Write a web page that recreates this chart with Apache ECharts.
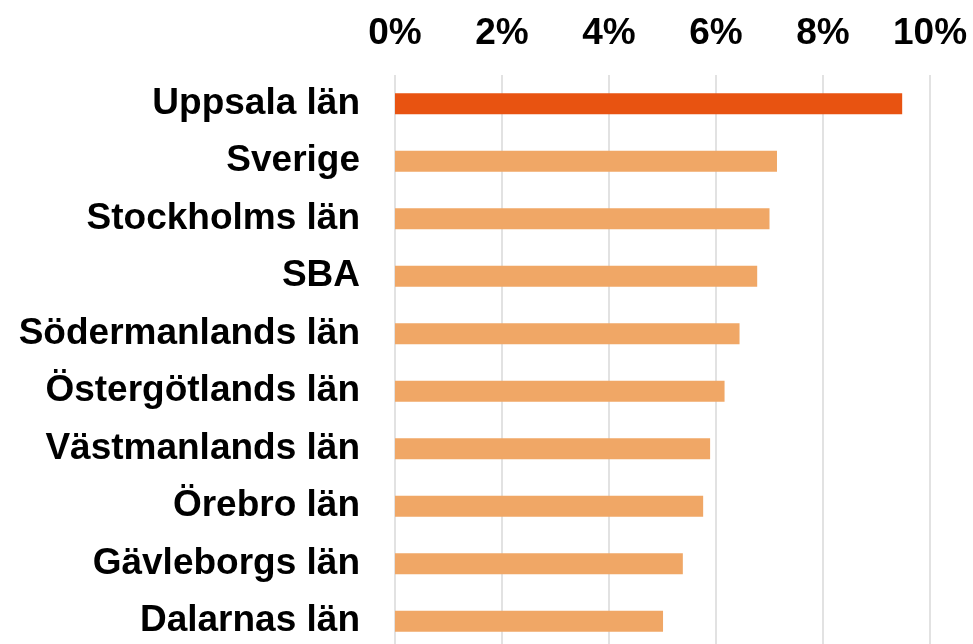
<!DOCTYPE html>
<html>
<head>
    <meta charset="utf-8">
    <title>Län</title>
    <script src="https://cdn.jsdelivr.net/npm/echarts@6/dist/echarts.min.js"></script>
    <style>
        html, body { margin: 0; padding: 0; background: #fff; }
    </style>
</head>
<body>
<div id="chart" style="width: 973px; height: 644px;"></div>
<script type="text/javascript">
    var categories = ['Uppsala län', 'Sverige', 'Stockholms län', 'SBA', 'Södermanlands län',
        'Östergötlands län', 'Västmanlands län', 'Örebro län', 'Gävleborgs län', 'Dalarnas län'];
    var values = [9.48, 7.14, 7.00, 6.77, 6.44, 6.16, 5.89, 5.76, 5.38, 5.01];
    var highlight = 'Uppsala län';

    var chart = echarts.init(document.getElementById('chart'));
    var font = "'Liberation Sans', Arial, sans-serif";

    var option = {
        animation: false,
        grid: {
            left: 395,
            right: 43,
            top: 75,
            height: 575,
            containLabel: false,
            outerBoundsMode: 'none'
        },
        xAxis: {
            type: 'value',
            position: 'top',
            min: 0,
            max: 10,
            interval: 2,
            axisLine: { show: false },
            axisTick: { show: false },
            axisLabel: {
                formatter: '{value}%',
                color: '#000',
                fontWeight: 'bold',
                fontSize: 37,
                fontFamily: font,
                margin: 23
            },
            splitLine: {
                show: true,
                lineStyle: { color: '#d9d9d9', width: 1.5 }
            }
        },
        yAxis: {
            type: 'category',
            inverse: true,
            data: categories,
            axisLine: { show: false },
            axisTick: { show: false },
            axisLabel: {
                color: '#000',
                fontWeight: 'bold',
                fontSize: 37,
                fontFamily: font,
                margin: 35,
                lineHeight: 41
            }
        },
        series: [{
            type: 'bar',
            barWidth: 21,
            data: values.map(function (v, i) {
                return {
                    value: v,
                    itemStyle: { color: categories[i] === highlight ? '#e85311' : '#f0a766' }
                };
            })
        }]
    };
    chart.setOption(option);
</script>
</body>
</html>
